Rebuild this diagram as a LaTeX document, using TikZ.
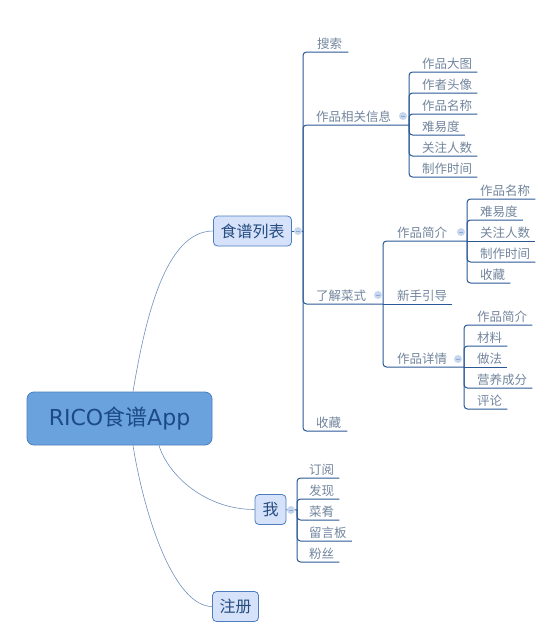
\documentclass[tikz,border=0pt]{standalone}
\usepackage{fontspec}
\setmainfont{Noto Sans CJK SC}
\newfontfamily\latinfont{DejaVu Sans}
\usepackage{tikz}
\usetikzlibrary{
    positioning,
    calc
}
\definecolor{rootfill}{HTML}{6AA2DE}
\definecolor{rootline}{HTML}{4A7EBE}
\definecolor{roottext}{HTML}{1C4A86}
\definecolor{topicfill}{HTML}{D5E2FA}
\definecolor{topicline}{HTML}{4D7DBF}
\definecolor{topictext}{HTML}{264C80}
\definecolor{branchline}{HTML}{2A5895}
\definecolor{curveline}{HTML}{6E90BA}
\definecolor{leafgray}{HTML}{72859D}
\definecolor{foldfill}{HTML}{C6D6EF}
\definecolor{foldline}{HTML}{8FA9D2}
\tikzset{
    rootbox/.style={
        rectangle,
        rounded corners=7pt,
        fill=rootfill,
        draw=rootline,
        line width=0.8pt,
        minimum width=185pt,
        minimum height=53pt,
        text=roottext,
        font=\fontsize{22}{22}\selectfont
    },
    topicbox/.style={
        rectangle,
        rounded corners=4pt,
        fill=topicfill,
        draw=topicline,
        line width=0.8pt,
        inner xsep=7pt,
        minimum width=31pt,
        minimum height=30pt,
        text=topictext,
        font=\fontsize{16}{16}\selectfont
    },
    leaf/.style={
        anchor=south west,
        inner xsep=0pt,
        inner ysep=3.5pt,
        text depth=0pt,
        text=leafgray,
        font=\fontsize{12.5}{12.5}\selectfont
    },
    branch/.style={
        draw=branchline,
        line width=1pt,
        rounded corners=3.5pt
    },
    curvelink/.style={
        draw=curveline,
        line width=0.6pt
    },
    fold/.style={
        circle,
        fill=foldfill,
        inner sep=0pt,
        minimum size=8pt,
        path picture={
            \draw[foldline, line width=0.8pt]
                ([xshift=-2pt]path picture bounding box.center) --
                ([xshift=2pt]path picture bounding box.center);
        }
    }
}
\begin{document}
\begin{tikzpicture}[x=1pt, y=-1pt]
\useasboundingbox (0,0) rectangle (549,640);

% main topics
\node[rootbox] (root) at (119.5,418.5) {{\latinfont RICO}食谱{\latinfont App}};
\node[topicbox] (list) at (252.5,231) {食谱列表};
\node[topicbox] (me) at (270.5,509.5) {我};
\node[topicbox] (signup) at (235.5,606.5) {注册};

\draw[curvelink] ([xshift=13.5pt]root.north) .. controls (145,320) and (165,231) .. (list.west);
\draw[curvelink] ([xshift=39.5pt]root.south) .. controls (168,475) and (205,509.5) .. (me.west);
\draw[curvelink] ([xshift=13.5pt]root.south) .. controls (145,520) and (175,606.5) .. (signup.west);

% recipe list
\coordinate (listJ) at (303,231);
\draw[branch] (list.east) -- (listJ);

\node[leaf] (search) at (317,52) {搜索};
\node[leaf] (info) at (316,125) {作品相关信息};
\node[leaf] (learn) at (316,304) {了解菜式};
\node[leaf] (fav) at (316,431) {收藏};
\coordinate (infoJ) at (409,125);
\coordinate (learnJ) at (383,304);

\draw[branch] (listJ) |- ([xshift=6pt]search.south east);
\draw[branch] (listJ) |- (infoJ);
\draw[branch] (listJ) |- (learnJ);
\draw[branch] (listJ) |- ([xshift=6pt]fav.south east);

% work info
\node[leaf] (infoA) at (422,72) {作品大图};
\node[leaf] (infoB) at (422,93) {作者头像};
\node[leaf] (infoC) at (422,114) {作品名称};
\node[leaf] (infoD) at (422,135) {难易度};
\node[leaf] (infoE) at (422,156) {关注人数};
\node[leaf] (infoF) at (422,177) {制作时间};

\draw[branch] (infoJ) |- ([xshift=5pt]infoA.south east);
\draw[branch] (infoJ) |- ([xshift=5pt]infoB.south east);
\draw[branch] (infoJ) |- ([xshift=5pt]infoC.south east);
\draw[branch] (infoJ) |- ([xshift=5pt]infoD.south east);
\draw[branch] (infoJ) |- ([xshift=5pt]infoE.south east);
\draw[branch] (infoJ) |- ([xshift=5pt]infoF.south east);

% learn dishes
\node[leaf] (brief) at (397,241) {作品简介};
\node[leaf] (guide) at (397,304) {新手引导};
\node[leaf] (detail) at (397,367) {作品详情};
\coordinate (briefJ) at (467,241);
\coordinate (detailJ) at (464,367);

\draw[branch] (learnJ) |- (briefJ);
\draw[branch] (learnJ) -- ([xshift=5pt]guide.south east);
\draw[branch] (learnJ) |- (detailJ);

\node[leaf] (briefA) at (480,199) {作品名称};
\node[leaf] (briefB) at (480,220) {难易度};
\node[leaf] (briefC) at (480,241) {关注人数};
\node[leaf] (briefD) at (480,262) {制作时间};
\node[leaf] (briefE) at (480,283) {收藏};

\draw[branch] (briefJ) |- ([xshift=5pt]briefA.south east);
\draw[branch] (briefJ) |- ([xshift=5pt]briefB.south east);
\draw[branch] (briefJ) -- ([xshift=5pt]briefC.south east);
\draw[branch] (briefJ) |- ([xshift=5pt]briefD.south east);
\draw[branch] (briefJ) |- ([xshift=5pt]briefE.south east);

\node[leaf] (detailA) at (477,325) {作品简介};
\node[leaf] (detailB) at (477,346) {材料};
\node[leaf] (detailC) at (477,367) {做法};
\node[leaf] (detailD) at (477,388) {营养成分};
\node[leaf] (detailE) at (477,409) {评论};

\draw[branch] (detailJ) |- ([xshift=5pt]detailA.south east);
\draw[branch] (detailJ) |- ([xshift=5pt]detailB.south east);
\draw[branch] (detailJ) -- ([xshift=5pt]detailC.south east);
\draw[branch] (detailJ) |- ([xshift=5pt]detailD.south east);
\draw[branch] (detailJ) |- ([xshift=5pt]detailE.south east);

% me
\coordinate (meJ) at (297,510);
\draw[branch] (me.east) -- (meJ);

\node[leaf] (meA) at (309,478) {订阅};
\node[leaf] (meB) at (309,499) {发现};
\node[leaf] (meC) at (309,520) {菜肴};
\node[leaf] (meD) at (309,541) {留言板};
\node[leaf] (meE) at (309,562) {粉丝};

\draw[branch] (meJ) |- ([xshift=5pt]meA.south east);
\draw[branch] (meJ) |- ([xshift=5pt]meB.south east);
\draw[branch] (meJ) |- ([xshift=5pt]meC.south east);
\draw[branch] (meJ) |- ([xshift=5pt]meD.south east);
\draw[branch] (meJ) |- ([xshift=5pt]meE.south east);

% collapse markers
\node[fold] (foldList) at (298,231) {};
\node[fold] (foldInfo) at (403,116) {};
\node[fold] (foldLearn) at (378,295) {};
\node[fold] (foldBrief) at (461,232) {};
\node[fold] (foldDetail) at (458,359) {};
\node[fold] (foldMe) at (291,510) {};

\end{tikzpicture}
\end{document}
